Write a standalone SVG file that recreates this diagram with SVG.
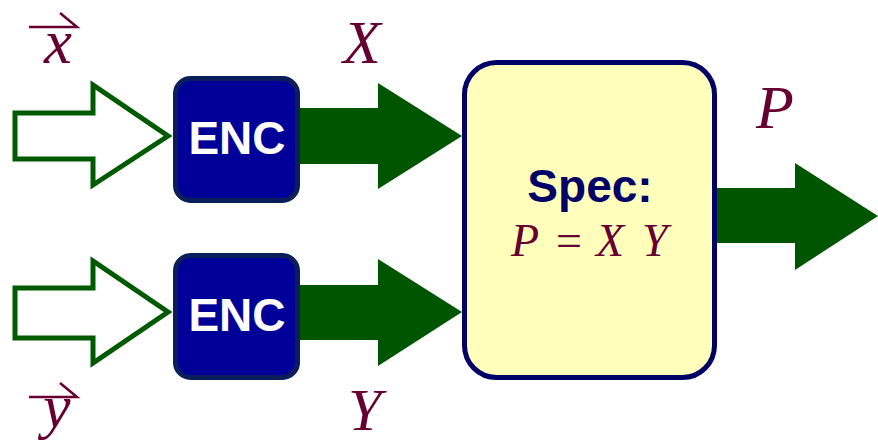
<svg xmlns="http://www.w3.org/2000/svg" width="878" height="443" viewBox="0 0 878 443">
<style>
.hollow{fill:#ffffff;stroke:#005a00;stroke-width:5;stroke-linejoin:miter}
.solid{fill:#005500;stroke:none}
.enc rect{fill:#000099;stroke:#0a1f5a;stroke-width:5}
.enc text{fill:#ffffff;font-family:"Liberation Sans",Arial,sans-serif;font-weight:bold;font-size:46px;text-anchor:middle}
.math{fill:#660033;font-family:"Liberation Serif","Times New Roman",serif;font-style:italic}
.vec{stroke:#660033;stroke-width:2.5;fill:none}
</style>
<g id="connectors">
<polygon class="hollow" points="15,113 93,113 93,85 168,136 93,185 93,159 15,159"/>
<polygon class="hollow" points="15,288 93,288 93,261 168,312 93,363 93,338 15,338"/>
<polygon class="solid" points="300,108 378,108 378,83 462,136 378,189 378,164 300,164"/>
<polygon class="solid" points="300,285 378,285 378,259 462,312 378,366 378,340 300,340"/>
<polygon class="solid" points="717,188 795,188 795,163 878,216 795,270 795,243 717,243"/>
</g>
<g id="label-x">
<path class="vec" d="M29,27 H77 L60,13"/>
<text class="math" x="44" y="63" font-size="63">x</text>
</g>
<g id="label-y">
<path class="vec" d="M29,397 H77 L60,383"/>
<text class="math" x="43" y="427" font-size="62">y</text>
</g>
<g id="label-X"><text class="math" x="343" y="63" font-size="62">X</text></g>
<g id="label-Y"><text class="math" x="348" y="430" font-size="60">Y</text></g>
<g id="label-P"><text class="math" x="756" y="128" font-size="62">P</text></g>
<g id="enc1" class="enc">
<rect x="175.5" y="78.5" width="122" height="122" rx="15"/>
<text x="237" y="154">ENC</text>
</g>
<g id="enc2" class="enc">
<rect x="175.5" y="255.5" width="122" height="122" rx="15"/>
<text x="237" y="331">ENC</text>
</g>
<g id="spec">
<rect x="464.5" y="62.5" width="250" height="315" rx="32" fill="#ffffbb" stroke="#000066" stroke-width="5"/>
<text x="590" y="202" font-family="'Liberation Sans',Arial,sans-serif" font-weight="bold" font-size="46" fill="#000066" text-anchor="middle">Spec:</text>
<text class="math" y="256" font-size="46"><tspan x="511">P</tspan><tspan x="556" font-style="normal">=</tspan><tspan x="596">X</tspan><tspan x="642">Y</tspan></text>
</g>
</svg>
